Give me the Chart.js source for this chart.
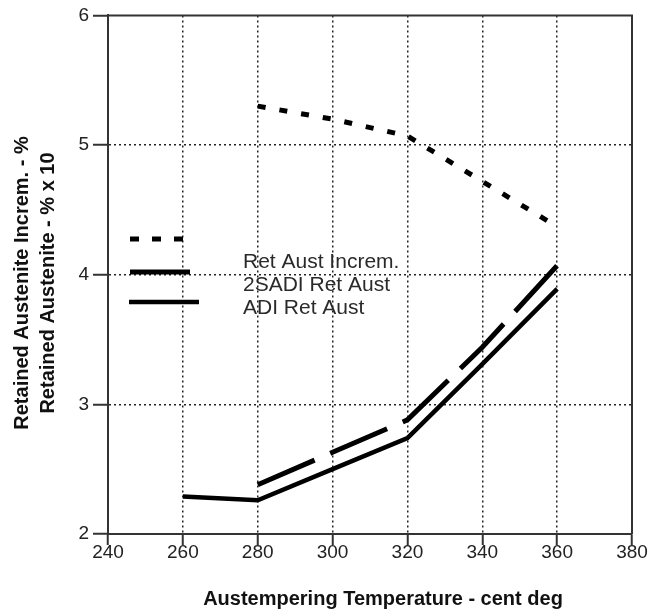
<!DOCTYPE html>
<html><head><meta charset="utf-8">
<script src="https://cdn.jsdelivr.net/npm/chart.js@4/dist/chart.umd.min.js"></script>
<style>html,body{margin:0;padding:0;background:#fff}canvas{display:block}</style>
</head><body>
<canvas id="c" width="648" height="613"></canvas>
<script>
// ---- data ----
const temps = [260, 280, 300, 320, 340, 360];
const retAustIncrem = [null, 5.30, 5.20, 5.07, 4.72, 4.37];
const sadiRetAust = [null, 2.38, 2.63, 2.88, 3.44, 4.07];
const adiRetAust = [2.29, 2.26, 2.50, 2.74, 3.31, 3.89];
const seriesNames = ['Ret Aust Increm.', '2SADI Ret Aust', 'ADI Ret Aust'];
const xTickValues = [240, 260, 280, 300, 320, 340, 360, 380];
const yTickValues = [2, 3, 4, 5, 6];
const xTitle = 'Austempering Temperature - cent deg';
const yTitleLines = ['Retained Austenite Increm. - %', 'Retained Austenite - % x 10'];

const FONT = '"Liberation Sans", Arial, sans-serif';
Chart.defaults.font.family = FONT;

function pts(vals) {
  const out = [];
  temps.forEach((t, i) => { if (vals[i] !== null) out.push({x: t, y: vals[i]}); });
  return out;
}

const xMin = xTickValues[0], xMax = xTickValues[xTickValues.length - 1];
const yMin = yTickValues[0], yMax = yTickValues[yTickValues.length - 1];

const framePlugin = {
  id: 'frame',
  beforeDatasetsDraw(chart) {
    const {ctx, chartArea: a} = chart;
    ctx.save();
    ctx.strokeStyle = '#333'; ctx.lineWidth = 2;
    ctx.beginPath();
    ctx.moveTo(a.left - 1, a.top); ctx.lineTo(a.right, a.top); ctx.lineTo(a.right, a.bottom);
    ctx.stroke();
    ctx.restore();
  }
};

const legendPlugin = {
  id: 'customLegend',
  afterDraw(chart) {
    const ctx = chart.ctx;
    const samples = [
      {i: 0, x1: 130, x2: 185, y: 239, dash: [9, 13]},
      {i: 1, x1: 130, x2: 190, y: 272, dash: []},
      {i: 2, x1: 129, x2: 199, y: 302, dash: []}
    ];
    ctx.save();
    samples.forEach(s => {
      const ds = chart.data.datasets[s.i];
      ctx.strokeStyle = ds.borderColor;
      ctx.lineWidth = ds.borderWidth;
      ctx.setLineDash(s.dash);
      ctx.beginPath(); ctx.moveTo(s.x1, s.y); ctx.lineTo(s.x2, s.y); ctx.stroke();
    });
    ctx.setLineDash([]);
    ctx.fillStyle = '#2a2a2a';
    ctx.font = '21px ' + FONT;
    ctx.textAlign = 'left'; ctx.textBaseline = 'alphabetic';
    const baselines = [268, 291, 314];
    seriesNames.forEach((n, k) => ctx.fillText(n, 243, baselines[k]));

    // axis titles
    ctx.fillStyle = '#111';
    ctx.font = 'bold 20px ' + FONT;
    ctx.textAlign = 'center';
    ctx.fillText(xTitle, 383, 605);
    const xs = [22, 48];
    yTitleLines.forEach((t, k) => {
      ctx.save();
      ctx.translate(xs[k], 283);
      ctx.rotate(-Math.PI / 2);
      ctx.textBaseline = 'middle';
      ctx.fillText(t, 0, 0);
      ctx.restore();
    });
    ctx.restore();
  }
};

const gridColor = (lo, hi) => (c) => {
  const v = c.tick ? c.tick.value : null;
  return (v === lo || v === hi) ? 'rgba(0,0,0,0)' : '#222';
};

new Chart(document.getElementById('c'), {
  type: 'scatter',
  data: {
    datasets: [
      {label: seriesNames[0], data: pts(retAustIncrem), showLine: true, borderColor: '#000', backgroundColor: '#000',
       borderWidth: 5, borderDash: [8, 14], pointRadius: 0, tension: 0, borderCapStyle: 'butt'},
      {label: seriesNames[1], data: pts(sadiRetAust), showLine: true, borderColor: '#000', backgroundColor: '#000',
       borderWidth: 5, borderDash: [62, 17], pointRadius: 0, tension: 0, borderCapStyle: 'butt'},
      {label: seriesNames[2], data: pts(adiRetAust), showLine: true, borderColor: '#000', backgroundColor: '#000',
       borderWidth: 4.5, pointRadius: 0, tension: 0}
    ]
  },
  options: {
    responsive: false,
    animation: false,
    devicePixelRatio: 1,
    layout: {padding: {left: 0, top: 11, right: 16, bottom: 0}},
    plugins: {legend: {display: false}, tooltip: {enabled: false}},
    scales: {
      x: {
        type: 'linear', min: xMin, max: xMax,
        afterBuildTicks: s => { s.ticks = xTickValues.map(v => ({value: v})); },
        afterFit: s => { s.height = 79; },
        ticks: {color: '#222', font: {size: 19}, padding: -4, maxRotation: 0},
        grid: {color: gridColor(xMin, xMax), lineWidth: 1.5, tickColor: '#333', tickWidth: 2, tickLength: 11},
        border: {display: true, color: '#333', width: 2, dash: [2, 3]}
      },
      y: {
        type: 'linear', min: yMin, max: yMax,
        afterBuildTicks: s => { s.ticks = yTickValues.map(v => ({value: v})); },
        afterFit: s => { s.width = 108; },
        ticks: {color: '#222', font: {size: 19}, padding: 4},
        grid: {color: gridColor(yMin, yMax), lineWidth: 1.5, tickColor: '#333', tickWidth: 2, tickLength: 15},
        border: {display: true, color: '#333', width: 2, dash: [2, 3]}
      }
    }
  },
  plugins: [framePlugin, legendPlugin]
});
</script>
</body></html>
